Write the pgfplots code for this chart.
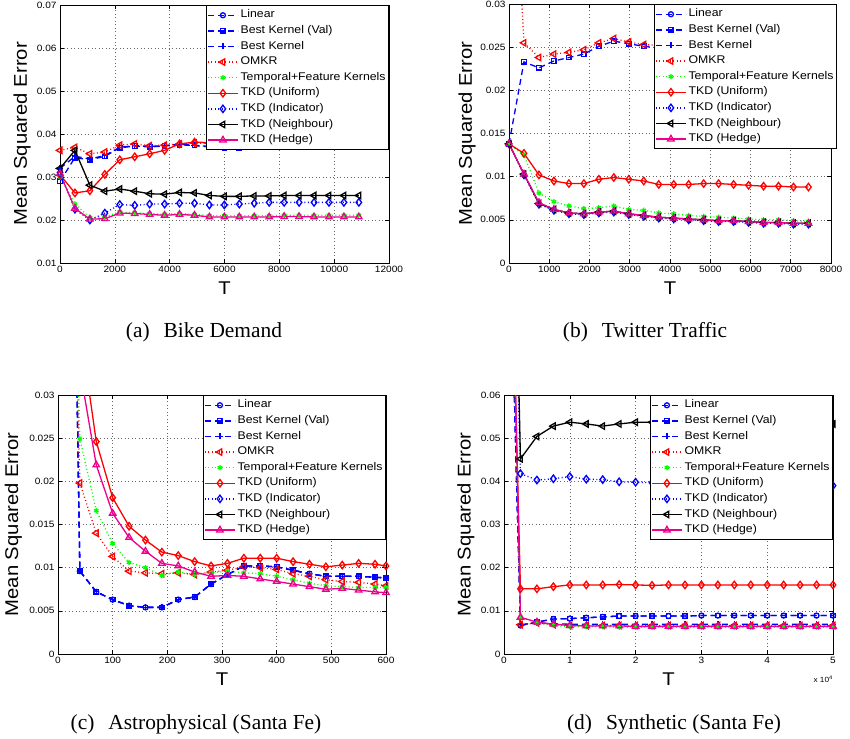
\documentclass[border=0pt]{standalone}
\usepackage{fontspec}
\setmainfont[FakeStretch=1.1]{Liberation Sans}
\newfontfamily\capfont{Liberation Serif}
\usepackage{pgfplots}
\usepackage{pgfplotstable}
\pgfplotsset{compat=1.18}

\pgfplotstableread{
x val bk omkr tf uni ind nei hed
0 0.0290 0.0320 0.0362 0.0300 0.0305 0.0310 0.0320 0.0308
545 0.0345 0.0348 0.0369 0.0237 0.0263 0.0225 0.0362 0.0227
1090 0.0340 0.0342 0.0354 0.0206 0.0268 0.0200 0.0281 0.0202
1635 0.0348 0.0350 0.0358 0.0207 0.0306 0.0216 0.0267 0.0203
2180 0.0368 0.0369 0.0374 0.0219 0.0340 0.0236 0.0272 0.0216
2725 0.0372 0.0373 0.0377 0.0217 0.0347 0.0234 0.0267 0.0215
3270 0.0370 0.0371 0.0373 0.0215 0.0354 0.0237 0.0261 0.0213
3815 0.0372 0.0373 0.0374 0.0213 0.0362 0.0237 0.0260 0.0211
4360 0.0375 0.0376 0.0377 0.0215 0.0377 0.0239 0.0264 0.0213
4905 0.0373 0.0374 0.0379 0.0213 0.0381 0.0239 0.0263 0.0211
5450 0.0370 0.0371 0.0378 0.0210 0.0380 0.0235 0.0257 0.0207
5995 0.0368 0.0369 0.0378 0.0210 0.0382 0.0235 0.0255 0.0207
6540 0.0368 0.0369 0.0379 0.0210 0.0383 0.0237 0.0255 0.0207
7085 0.0369 0.0370 0.0380 0.0210 0.0384 0.0239 0.0256 0.0207
7630 0.0369 0.0370 0.0381 0.0210 0.0385 0.0241 0.0256 0.0207
8175 0.0375 0.0376 0.0382 0.0211 0.0385 0.0241 0.0257 0.0208
8720 0.0376 0.0377 0.0382 0.0211 0.0386 0.0241 0.0257 0.0208
9265 0.0377 0.0378 0.0383 0.0211 0.0386 0.0241 0.0257 0.0207
9810 0.0378 0.0379 0.0383 0.0211 0.0386 0.0241 0.0257 0.0207
10355 0.0378 0.0379 0.0384 0.0211 0.0387 0.0241 0.0257 0.0207
10900 0.0378 0.0379 0.0384 0.0211 0.0387 0.0241 0.0257 0.0207
}\tabA

\pgfplotstableread{
x val omkr tf uni ind nei hed
0 0.0138 0.0570 0.0138 0.0138 0.0138 0.0138 0.0138
372 0.0233 0.0255 0.0125 0.0127 0.0102 0.0103 0.0103
744 0.0226 0.0238 0.0081 0.0102 0.0068 0.0069 0.0070
1116 0.0234 0.0242 0.0071 0.0095 0.0061 0.0062 0.0062
1488 0.0238 0.0244 0.0066 0.0092 0.0057 0.0058 0.0058
1860 0.0242 0.0247 0.0063 0.0092 0.0056 0.0057 0.0057
2232 0.0251 0.0255 0.0064 0.0097 0.0058 0.0059 0.0059
2604 0.0257 0.0260 0.0066 0.0099 0.0059 0.0060 0.0060
2976 0.0254 0.0256 0.0062 0.0097 0.0056 0.0057 0.0057
3348 0.0251 0.0253 0.0061 0.0095 0.0054 0.0055 0.0055
3720 0.0249 0.0252 0.0058 0.0091 0.0052 0.0053 0.0053
4092 0.0248 0.0251 0.0057 0.0091 0.0051 0.0052 0.0052
4464 0.0247 0.0250 0.0055 0.0091 0.0050 0.0051 0.0051
4836 0.0247 0.0250 0.0054 0.0092 0.0049 0.0050 0.0050
5208 0.0246 0.0249 0.0053 0.0092 0.0048 0.0049 0.0049
5580 0.0246 0.0249 0.0052 0.0091 0.0048 0.0049 0.0049
5952 0.0245 0.0248 0.0051 0.0090 0.0047 0.0048 0.0048
6324 0.0245 0.0248 0.0050 0.0089 0.0046 0.0047 0.0047
6696 0.0245 0.0248 0.0050 0.0089 0.0046 0.0047 0.0047
7068 0.0244 0.0247 0.0049 0.0088 0.0045 0.0046 0.0046
7440 0.0244 0.0247 0.0048 0.0088 0.0045 0.0046 0.0046
}\tabB

\pgfplotstableread{
x lin omkr tf uni hed
10 0.1300 0.1000 0.1000 0.1500 0.1500
40 0.0096 0.0198 0.0249 0.0380 0.0330
70 0.0072 0.0140 0.0166 0.0246 0.0219
100 0.0063 0.0113 0.0128 0.0181 0.0163
130 0.0056 0.0096 0.0106 0.0148 0.0135
160 0.0054 0.0094 0.0100 0.0132 0.0119
190 0.0054 0.0093 0.0091 0.0118 0.0105
220 0.0063 0.0094 0.0095 0.0114 0.0102
250 0.0066 0.0092 0.0092 0.0107 0.0095
280 0.0081 0.0095 0.0094 0.0102 0.0090
310 0.0092 0.0097 0.0096 0.0105 0.0091
340 0.0102 0.0101 0.0094 0.0111 0.0090
370 0.0102 0.0100 0.0093 0.0111 0.0087
400 0.0101 0.0098 0.0090 0.0111 0.0084
430 0.0097 0.0093 0.0086 0.0107 0.0081
460 0.0093 0.0090 0.0082 0.0104 0.0078
490 0.0090 0.0086 0.0079 0.0101 0.0075
520 0.0090 0.0084 0.0078 0.0103 0.0076
550 0.0090 0.0083 0.0077 0.0105 0.0074
580 0.0089 0.0081 0.0077 0.0104 0.0072
600 0.0088 0.0079 0.0077 0.0102 0.0071
}\tabC

\pgfplotstableread{
x lin bk omkr tf uni ind nei hed
0 0.150 0.150 0.170 0.170 0.165 0.190 0.215 0.185
2500 0.0066 0.0068 0.0068 0.0085 0.0151 0.0418 0.0452 0.0085
5000 0.0074 0.0072 0.0072 0.0072 0.0151 0.0403 0.0504 0.0074
7500 0.0081 0.0070 0.0068 0.0066 0.0156 0.0406 0.0528 0.0069
10000 0.0082 0.0069 0.0066 0.0063 0.0160 0.0411 0.0537 0.0066
12500 0.0084 0.0069 0.0066 0.0063 0.0160 0.0405 0.0533 0.0065
15000 0.0086 0.0069 0.0066 0.0063 0.0160 0.0404 0.0528 0.0065
17500 0.0088 0.0069 0.0066 0.0062 0.0161 0.0399 0.0533 0.0065
20000 0.0088 0.0069 0.0066 0.0062 0.0160 0.0398 0.0537 0.0064
22500 0.0088 0.0069 0.0066 0.0062 0.0159 0.0397 0.0537 0.0064
25000 0.0088 0.0069 0.0066 0.0062 0.0160 0.0396 0.0536 0.0064
27500 0.0088 0.0069 0.0066 0.0062 0.0160 0.0396 0.0535 0.0064
30000 0.0089 0.0069 0.0066 0.0062 0.0160 0.0395 0.0535 0.0064
32500 0.0089 0.0069 0.0066 0.0062 0.0160 0.0394 0.0535 0.0064
35000 0.0089 0.0069 0.0066 0.0062 0.0160 0.0394 0.0535 0.0064
37500 0.0089 0.0069 0.0066 0.0062 0.0160 0.0393 0.0535 0.0064
40000 0.0089 0.0069 0.0066 0.0062 0.0160 0.0393 0.0535 0.0064
42500 0.0089 0.0069 0.0066 0.0062 0.0160 0.0392 0.0534 0.0064
45000 0.0089 0.0069 0.0066 0.0062 0.0160 0.0391 0.0534 0.0064
47500 0.0089 0.0069 0.0066 0.0062 0.0160 0.0391 0.0533 0.0064
50000 0.0089 0.0069 0.0066 0.0062 0.0160 0.0390 0.0533 0.0064
}\tabD

\pgfplotsset{
  base/.style={
    scale only axis, anchor=south west,
    axis line style={black, line width=0.9bp},
    grid=major,
    major grid style={dash pattern=on 1bp off 2.5bp, black!60, line width=0.6bp},
    tick style={black, line width=0.6bp},
    major tick length=4bp,
    tick align=inside,
    ticklabel style={font=\fontsize{9.2}{10}\selectfont},
    /pgf/number format/assume math mode=true,
    /pgf/number format/fixed,
    /pgf/number format/precision=3,
    /pgf/number format/1000 sep={},
    scaled ticks=false,
    xlabel={T}, ylabel={Mean Squared Error},
    label style={font=\fontsize{18.5}{20}\selectfont},
    xlabel style={at={(axis description cs:0.5,-0.099)}, anchor=center},
    legend cell align=left,
    legend style={draw=black, line width=0.9bp, fill=white,
      font=\fontsize{11.2}{12}\selectfont,
      inner xsep=1bp, inner ysep=2bp, row sep=0bp,
      nodes={inner ysep=2.6bp, inner xsep=2bp, text height=7.8bp, text depth=2.6bp}},
    legend image code/.code={\draw[mark repeat=2,mark phase=2] plot coordinates {(0bp,0bp) (15bp,0bp) (30bp,0bp)};},
    every axis plot/.append style={line width=1.3bp},
  },
  linS/.style={blue, dash pattern=on 6bp off 4bp, mark=o, mark size=2.5bp, mark options={solid}},
  valS/.style={blue, dash pattern=on 6bp off 4bp, mark=square, mark size=2.2bp, mark options={solid}},
  bkS/.style={blue, dash pattern=on 6bp off 4bp, mark=+, mark size=3bp, mark options={solid}},
  omkrS/.style={red, dash pattern=on 1bp off 2.5bp, mark=triangle, mark size=3.7bp, mark options={solid, rotate=90}},
  tfS/.style={green, dash pattern=on 1bp off 2.5bp, mark=asterisk, mark size=2.6bp, mark options={solid}},
  uniS/.style={red, solid, mark=diamond, mark size=3.7bp},
  indS/.style={blue, dash pattern=on 1bp off 2.5bp, mark=diamond, mark size=3.7bp, mark options={solid}},
  neiS/.style={black, solid, mark=triangle, mark size=3.7bp, mark options={rotate=90}},
  hedS/.style={magenta, solid, mark=triangle, mark size=3.7bp},
}

\begin{document}
\begin{tikzpicture}
\useasboundingbox (0,0) rectangle (850bp,-739bp);

% (a)
\begin{axis}[base, at={(60bp,-263bp)}, width=329bp, height=258bp,
  xmin=0, xmax=12000, ymin=0.01, ymax=0.07,
  xtick={0,2000,...,12000}, ytick={0.01,0.02,...,0.07},
  ylabel style={at={(axis description cs:-0.1155,0.5)}, anchor=center},
  legend style={at={(rel axis cs:1,1)}, anchor=north east}]
\addlegendimage{linS}
\addplot[valS] table[x=x,y=val] {\tabA};
\addplot[bkS] table[x=x,y=bk] {\tabA};
\addplot[omkrS] table[x=x,y=omkr] {\tabA};
\addplot[tfS] table[x=x,y=tf] {\tabA};
\addplot[uniS] table[x=x,y=uni] {\tabA};
\addplot[indS] table[x=x,y=ind] {\tabA};
\addplot[neiS] table[x=x,y=nei] {\tabA};
\addplot[hedS] table[x=x,y=hed] {\tabA};
\legend{Linear, Best Kernel (Val), Best Kernel, OMKR, Temporal+Feature Kernels, TKD (Uniform), TKD (Indicator), TKD (Neighbour), TKD (Hedge)}
\end{axis}

% (b)
\begin{axis}[base, at={(509bp,-263bp)}, width=322bp, height=259bp,
  xmin=0, xmax=8000, ymin=0, ymax=0.03,
  xtick={0,1000,...,8000}, ytick={0,0.005,...,0.03},
  ylabel style={at={(axis description cs:-0.130,0.5)}, anchor=center},
  legend style={at={(rel axis cs:1.0186,1)}, anchor=north east}]
\addlegendimage{linS}
\addplot[valS] table[x=x,y=val] {\tabB};
\addlegendimage{bkS}
\addplot[omkrS] table[x=x,y=omkr] {\tabB};
\addplot[tfS] table[x=x,y=tf] {\tabB};
\addplot[uniS] table[x=x,y=uni] {\tabB};
\addplot[indS] table[x=x,y=ind] {\tabB};
\addplot[neiS] table[x=x,y=nei] {\tabB};
\addplot[hedS] table[x=x,y=hed] {\tabB};
\legend{Linear, Best Kernel (Val), Best Kernel, OMKR, Temporal+Feature Kernels, TKD (Uniform), TKD (Indicator), TKD (Neighbour), TKD (Hedge)}
\end{axis}

% (c)
\begin{axis}[base, at={(58bp,-654bp)}, width=328bp, height=259bp,
  xmin=0, xmax=600, ymin=0, ymax=0.03,
  xtick={0,100,...,600}, ytick={0,0.005,...,0.03},
  ylabel style={at={(axis description cs:-0.136,0.5)}, anchor=center},
  xlabel style={at={(axis description cs:0.5,-0.098)}, anchor=center},
  legend style={at={(rel axis cs:1,1)}, anchor=north east}]
\addplot[linS] table[x=x,y=lin] {\tabC};
\addplot[valS] table[x=x,y=lin] {\tabC};
\addplot[bkS] table[x=x,y=lin] {\tabC};
\addplot[omkrS] table[x=x,y=omkr] {\tabC};
\addplot[tfS] table[x=x,y=tf] {\tabC};
\addplot[uniS] table[x=x,y=uni] {\tabC};
\addlegendimage{indS}
\addlegendimage{neiS}
\addplot[hedS] table[x=x,y=hed] {\tabC};
\legend{Linear, Best Kernel (Val), Best Kernel, OMKR, Temporal+Feature Kernels, TKD (Uniform), TKD (Indicator), TKD (Neighbour), TKD (Hedge)}
\end{axis}

% (d)
\begin{axis}[base, at={(504bp,-654bp)}, width=329bp, height=259bp,
  xmin=0, xmax=50000, ymin=0, ymax=0.06,
  xtick={0,10000,...,50000}, xticklabels={0,1,2,3,4,5},
  ytick={0,0.01,...,0.06},
  ylabel style={at={(axis description cs:-0.116,0.5)}, anchor=center},
  xlabel style={at={(axis description cs:0.5,-0.098)}, anchor=center},
  legend style={at={(rel axis cs:1,1)}, anchor=north east},
  after end axis/.code={\node[anchor=north east, inner sep=0pt, font=\fontsize{7.5}{8}\selectfont] at ([yshift=-22bp]rel axis cs:1,0) {x 10\textsuperscript{4}};}]
\addplot[linS] table[x=x,y=lin] {\tabD};
\addplot[valS] table[x=x,y=lin] {\tabD};
\addplot[bkS] table[x=x,y=bk] {\tabD};
\addplot[omkrS] table[x=x,y=omkr] {\tabD};
\addplot[tfS] table[x=x,y=tf] {\tabD};
\addplot[uniS] table[x=x,y=uni] {\tabD};
\addplot[indS] table[x=x,y=ind] {\tabD};
\addplot[neiS] table[x=x,y=nei] {\tabD};
\addplot[hedS] table[x=x,y=hed] {\tabD};
\legend{Linear, Best Kernel (Val), Best Kernel, OMKR, Temporal+Feature Kernels, TKD (Uniform), TKD (Indicator), TKD (Neighbour), TKD (Hedge)}
\end{axis}

\node[anchor=base, font={\capfont\fontsize{21.5}{24}\selectfont}] at (204bp,-337bp) {(a)\hspace{14bp}Bike Demand};
\node[anchor=base, font={\capfont\fontsize{21.5}{24}\selectfont}] at (645bp,-337bp) {(b)\hspace{14bp}Twitter Traffic};
\node[anchor=base, font={\capfont\fontsize{21.5}{24}\selectfont}] at (196bp,-729bp) {(c)\hspace{14bp}Astrophysical (Santa Fe)};
\node[anchor=base, font={\capfont\fontsize{21.5}{24}\selectfont}] at (674bp,-729bp) {(d)\hspace{14bp}Synthetic (Santa Fe)};
\end{tikzpicture}
\end{document}
